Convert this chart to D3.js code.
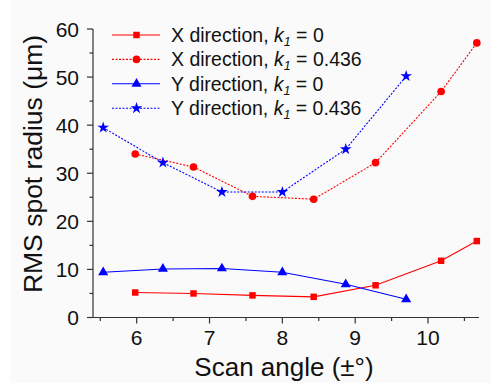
<!DOCTYPE html>
<html>
<head>
<meta charset="utf-8">
<script src="https://cdn.jsdelivr.net/npm/d3@7"></script>
<style>
  body { margin: 0; background: #fff; }
  svg { display: block; font-family: Arial, "Liberation Sans", sans-serif; }
</style>
</head>
<body>
<svg id="chart" width="491" height="383"></svg>
<script>
// angles for the X-direction runs and the Y-direction runs
const xAngles = [5.98, 6.78, 7.59, 8.43, 9.28, 10.18, 10.67];
const yAngles = [5.54, 6.36, 7.17, 8.0, 8.87, 9.70];

const xDirK0 = [5.2, 5.0, 4.6, 4.3, 6.7, 11.8, 15.9];
const xDirK436 = [34.0, 31.3, 25.2, 24.6, 32.2, 47.0, 57.1];
const yDirK0 = [9.4, 10.1, 10.2, 9.4, 6.9, 3.8];
const yDirK436 = [39.5, 32.2, 26.1, 26.1, 35.0, 50.2];

const xTicks = [6, 7, 8, 9, 10];
const yTicks = [0, 10, 20, 30, 40, 50, 60];

const series = [
    { name: "X direction, ", val: "0", x: xAngles, y: xDirK0, color: "#ff0000", dash: null, shape: d3.symbolSquare, size: 42 },
    { name: "X direction, ", val: "0.436", x: xAngles, y: xDirK436, color: "#ff0000", dash: "2,1.5", shape: d3.symbolCircle, size: 46 },
    { name: "Y direction, ", val: "0", x: yAngles, y: yDirK0, color: "#0000ff", dash: null, shape: d3.symbolTriangle, size: 44 },
    { name: "Y direction, ", val: "0.436", x: yAngles, y: yDirK436, color: "#0000ff", dash: "2,1.5", shape: d3.symbolStar, size: 42 }
];

const svg = d3.select("#chart");
svg.append("rect").attr("x", 10).attr("y", 0).attr("width", 481).attr("height", 383).attr("fill", "#fafafa");

const xScale = d3.scaleLinear().domain([5.4, 10.7]).range([93, 479]);
const yScale = d3.scaleLinear().domain([0, 60]).range([317.5, 29]);

// axes
const xAxis = svg.append("g").attr("transform", "translate(0,317.5)");
xAxis.append("line").attr("x1", 93).attr("x2", 479).attr("stroke", "#333").attr("stroke-width", 1.2);
const xMinor = d3.range(5.5, 10.75, 0.5);
xAxis.selectAll(".xt").data(xMinor).join("line")
    .attr("x1", d => xScale(d)).attr("x2", d => xScale(d))
    .attr("y1", 0).attr("y2", d => Number.isInteger(d) ? 6 : 3.5)
    .attr("stroke", "#333").attr("stroke-width", 1.2);
xAxis.selectAll(".xl").data(xTicks).join("text")
    .attr("x", d => xScale(d)).attr("y", 27)
    .attr("text-anchor", "middle").attr("font-size", 21).attr("fill", "#111")
    .text(d => d);

const yAxis = svg.append("g").attr("transform", "translate(93,0)");
yAxis.append("line").attr("y1", 29).attr("y2", 317.5).attr("stroke", "#333").attr("stroke-width", 1.2);
const yMinor = d3.range(0, 61, 5);
yAxis.selectAll(".yt").data(yMinor).join("line")
    .attr("y1", d => yScale(d)).attr("y2", d => yScale(d))
    .attr("x1", 0).attr("x2", d => d % 10 === 0 ? -6 : -3.5)
    .attr("stroke", "#333").attr("stroke-width", 1.2);
yAxis.selectAll(".yl").data(yTicks).join("text")
    .attr("x", -14).attr("y", d => yScale(d)).attr("dy", "0.36em")
    .attr("text-anchor", "end").attr("font-size", 21).attr("fill", "#111")
    .text(d => d);

svg.append("text").attr("x", 284).attr("y", 376)
    .attr("text-anchor", "middle").attr("font-size", 26).attr("fill", "#111")
    .text("Scan angle (±°)");
svg.append("text").attr("transform", "translate(42,164) rotate(-90)")
    .attr("text-anchor", "middle").attr("font-size", 26.5).attr("fill", "#111")
    .text("RMS spot radius (μm)");

// lines and markers
const line = d3.line().x(d => xScale(d[0])).y(d => yScale(d[1]));
for (const s of series) {
    const pts = s.x.map((v, i) => [v, s.y[i]]);
    svg.append("path").datum(pts)
        .attr("d", line)
        .attr("fill", "none")
        .attr("stroke", s.color)
        .attr("stroke-width", 1.1)
        .attr("stroke-dasharray", s.dash);
    svg.selectAll(null).data(pts).join("path")
        .attr("transform", d => "translate(" + xScale(d[0]) + "," + yScale(d[1]) + ")")
        .attr("d", d3.symbol().type(s.shape).size(s.size))
        .attr("fill", s.color);
}

// legend
const legend = svg.append("g");
series.forEach((s, i) => {
    const y = 35 + i * 24.4;
    legend.append("line").attr("x1", 112).attr("x2", 160).attr("y1", y).attr("y2", y)
        .attr("stroke", s.color).attr("stroke-width", 1.1).attr("stroke-dasharray", s.dash);
    legend.append("path").attr("transform", "translate(136.5," + y + ")")
        .attr("d", d3.symbol().type(s.shape).size(s.size)).attr("fill", s.color);
    const t = legend.append("text").attr("x", 171).attr("y", y).attr("dy", "0.36em")
        .attr("font-size", 19.5).attr("fill", "#111");
    t.append("tspan").text(s.name);
    t.append("tspan").attr("font-style", "italic").text("k");
    t.append("tspan").attr("font-style", "italic").attr("font-size", 12.5).attr("dy", 4).text("1");
    t.append("tspan").attr("dy", -4).text(" = " + s.val);
});
</script>
</body>
</html>
